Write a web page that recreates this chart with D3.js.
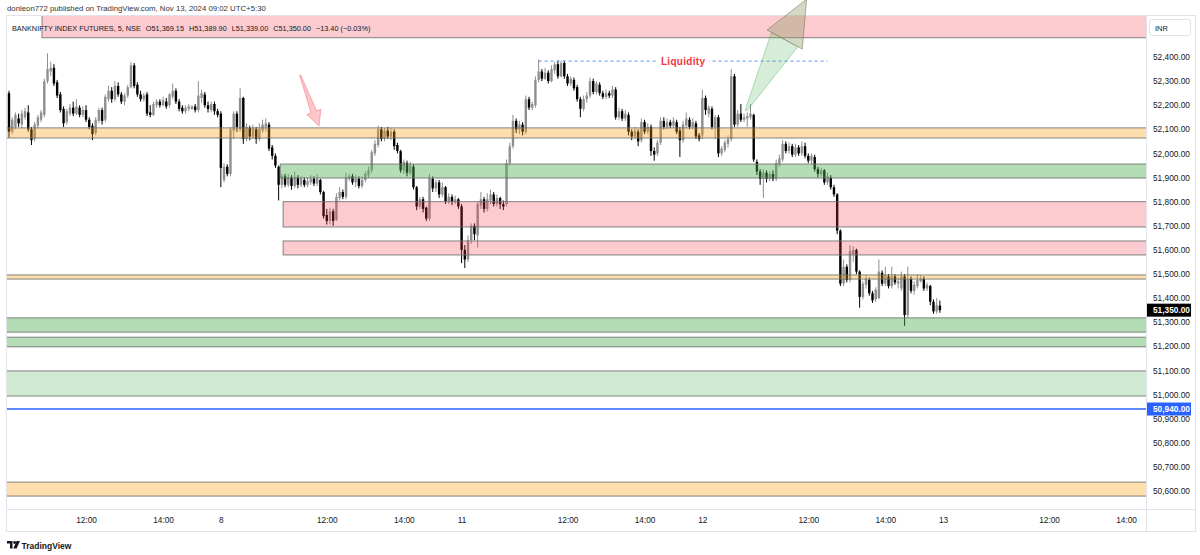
<!DOCTYPE html>
<html>
<head>
<meta charset="utf-8">
<script src="https://cdn.jsdelivr.net/npm/d3@7"></script>
<style>
  body { margin: 0; background: #fff; }
  text { font-family: "Liberation Sans", Arial, sans-serif; }
</style>
</head>
<body>
<svg id="chart" width="1200" height="555"></svg>
<script>
// 5 minute candles [open, high, low, close], one array per session
// Nov 7 is only visible from 09:55 (bar 8 of the session)
const nov07 = [
  [52265,52420,52260,52395],[52250,52260,52065,52090],[52090,52150,52080,52140],[52110,52170,52100,52160],
  [52145,52165,52110,52125],[52120,52180,52105,52165],[52150,52190,52140,52175],[52170,52200,52090,52100],
  [52100,52110,52035,52055],[52060,52130,52050,52120],[52115,52160,52105,52150],[52140,52180,52130,52170],
  [52160,52310,52150,52300],[52300,52415,52290,52350],[52340,52380,52320,52355],[52355,52370,52280,52290],
  [52295,52305,52230,52240],[52245,52255,52170,52180],[52185,52195,52110,52125],[52130,52185,52120,52175],
  [52165,52205,52155,52190],[52190,52215,52155,52165],[52165,52225,52160,52195],[52190,52200,52150,52160],
  [52160,52195,52150,52180],[52180,52200,52130,52140],[52140,52150,52100,52110],[52115,52125,52055,52080],
  [52085,52150,52075,52140],[52135,52190,52125,52180],[52180,52190,52120,52135],[52140,52245,52130,52235],
  [52225,52280,52215,52260],[52260,52275,52210,52225],[52225,52300,52215,52280],[52280,52295,52235,52245],
  [52245,52255,52205,52215],[52215,52250,52200,52240],[52240,52285,52230,52275],[52275,52380,52270,52365],
  [52365,52375,52270,52280],[52285,52295,52235,52245],[52245,52260,52215,52225],[52225,52250,52215,52240],
  [52245,52255,52155,52165],[52170,52200,52150,52160],[52160,52215,52155,52205],[52200,52225,52190,52215],
  [52215,52225,52190,52200],[52200,52235,52195,52220],[52215,52230,52185,52195],[52200,52250,52190,52245],
  [52235,52290,52225,52260],[52260,52270,52205,52215],[52215,52225,52175,52185],[52190,52200,52165,52175],
  [52175,52200,52165,52190],[52185,52205,52175,52195],[52185,52200,52180,52195],[52195,52205,52170,52180],
  [52180,52300,52170,52240],[52230,52265,52210,52250],[52245,52255,52190,52200],[52200,52215,52170,52185],
  [52180,52215,52170,52205],[52205,52215,52160,52175],[52175,52185,52150,52160]
];
const nov08 = [
  [52165,52175,51860,51940],[51890,51960,51880,51945],[51945,51955,51905,51915],[51915,52110,51905,52100],
  [52095,52175,52060,52165],[52165,52175,52090,52110],[52100,52270,52090,52230],[52230,52235,52040,52060],
  [52060,52125,52050,52110],[52105,52115,52055,52070],[52070,52120,52060,52105],[52100,52110,52040,52060],
  [52060,52125,52050,52100],[52095,52140,52085,52120],[52110,52145,52090,52125],[52120,52130,52010,52020],
  [52025,52035,51975,51990],[51990,52000,51940,51950],[51945,51950,51805,51870],[51870,51915,51855,51905],
  [51905,51915,51860,51870],[51870,51915,51860,51900],[51900,51910,51850,51865],[51865,51925,51855,51900],
  [51900,51910,51855,51870],[51870,51905,51860,51895],[51890,51900,51860,51870],[51870,51900,51860,51885],
  [51880,51910,51870,51895],[51895,51905,51865,51875],[51875,51915,51865,51895],[51890,51895,51830,51840],
  [51840,51845,51730,51740],[51745,51770,51705,51720],[51720,51775,51705,51760],[51760,51770,51700,51720],
  [51725,51835,51720,51820],[51815,51860,51805,51840],[51840,51850,51810,51820],[51820,51920,51810,51900],
  [51895,51915,51885,51905],[51905,51915,51870,51880],[51880,51910,51860,51895],[51895,51905,51855,51865],
  [51865,51905,51855,51890],[51890,51925,51880,51915],[51910,51945,51900,51930],[51930,52015,51920,52005],
  [52000,52055,51990,52040],[52035,52115,52025,52100],[52100,52110,52050,52060],[52060,52105,52050,52095],
  [52095,52110,52060,52070],[52070,52105,52055,52090],[52090,52100,52015,52030],[52035,52045,52000,52010],
  [52010,52015,51920,51930],[51930,51975,51915,51965],[51960,51970,51905,51920],[51920,51965,51910,51950],
  [51945,51955,51850,51860],[51860,51865,51765,51780],[51780,51820,51770,51810],[51810,51820,51755,51770],
  [51775,51780,51720,51730],[51730,51915,51720,51900],[51895,51905,51840,51855],[51855,51890,51840,51880],
  [51880,51890,51815,51830],[51830,51880,51820,51860],[51860,51865,51790,51800],[51800,51835,51790,51820],
  [51820,51830,51785,51800],[51800,51825,51790,51810],[51810,51815,51770,51780]
];
const nov11 = [
  [51780,51790,51545,51600],[51600,51620,51525,51560],[51560,51660,51550,51640],[51640,51710,51625,51700],
  [51700,51710,51640,51665],[51660,51800,51610,51790],[51785,51840,51770,51810],[51810,51820,51755,51770],
  [51770,51835,51760,51810],[51805,51850,51790,51830],[51830,51840,51780,51790],[51790,51830,51780,51815],
  [51815,51820,51770,51790],[51790,51805,51765,51780],[51790,51975,51780,51960],[51960,52045,51950,52030],
  [52030,52160,52020,52135],[52135,52145,52085,52100],[52100,52135,52080,52120],[52120,52130,52075,52090],
  [52090,52240,52080,52225],[52225,52235,52180,52190],[52190,52215,52180,52205],[52200,52320,52190,52305],
  [52305,52390,52295,52340],[52340,52350,52300,52310],[52310,52355,52305,52335],[52335,52345,52290,52300],
  [52300,52365,52295,52350],[52345,52380,52330,52370],[52370,52385,52310,52320],[52320,52385,52315,52375],
  [52375,52385,52310,52320],[52320,52330,52280,52290],[52290,52320,52280,52310],[52305,52315,52260,52270],
  [52275,52285,52215,52225],[52225,52235,52150,52185],[52185,52240,52175,52225],[52225,52255,52210,52240],
  [52240,52315,52230,52300],[52300,52310,52245,52255],[52255,52300,52245,52290],[52285,52295,52240,52250],
  [52250,52260,52225,52235],[52235,52265,52225,52250],[52250,52260,52230,52240],[52240,52280,52230,52265],
  [52265,52275,52140,52150],[52150,52190,52140,52175],[52175,52185,52135,52145],[52145,52180,52135,52165],
  [52160,52170,52075,52090],[52090,52100,52055,52070],[52070,52110,52060,52095],[52090,52100,52030,52050],
  [52055,52145,52045,52130],[52130,52140,52080,52090],[52090,52125,52080,52110],[52110,52120,51990,52010],
  [52010,52025,51970,51995],[52000,52055,51990,52045],[52045,52150,52035,52135],[52135,52150,52100,52110],
  [52110,52145,52100,52130],[52130,52140,52105,52115],[52115,52150,52105,52135],[52130,52140,52080,52090],
  [52095,52110,51985,52055],[52055,52135,52045,52120],[52115,52170,52105,52145],[52140,52150,52100,52110],
  [52110,52145,52100,52130],[52125,52135,52060,52070],[52075,52085,52050,52060]
];
const nov12 = [
  [52075,52265,52060,52230],[52230,52240,52160,52180],[52165,52200,52150,52190],[52185,52195,52100,52110],
  [52110,52160,52060,52150],[52150,52160,51985,52000],[52000,52030,51990,52020],[52015,52055,52005,52045],
  [52040,52075,52025,52060],[52060,52350,52050,52320],[52320,52330,52110,52120],[52120,52180,52110,52165],
  [52165,52205,52130,52140],[52140,52165,52130,52150],[52145,52170,52110,52155],[52150,52205,52140,52165],
  [52160,52165,51965,51975],[51965,51975,51910,51925],[51925,51935,51870,51895],[51895,51935,51815,51920],
  [51920,51930,51880,51895],[51895,51925,51885,51915],[51915,51930,51885,51895],[51895,51975,51885,51960],
  [51955,51995,51945,51980],[51975,52055,51965,52040],[52040,52050,52000,52010],[52010,52045,52000,52030],
  [52030,52040,51985,51995],[51995,52040,51985,52025],[52025,52035,51990,52000],[52000,52050,51990,52030],
  [52030,52045,51980,51990],[51990,52000,51960,51970],[51970,52000,51955,51990],[51985,51995,51925,51935],
  [51935,51945,51900,51915],[51915,51940,51905,51930],[51930,51935,51870,51880],[51880,51920,51870,51905],
  [51900,51910,51850,51860],[51860,51870,51820,51830],[51830,51835,51665,51680],[51680,51685,51450,51460],
  [51460,51560,51450,51530],[51530,51540,51465,51475],[51475,51620,51465,51595],[51580,51615,51550,51600],
  [51600,51605,51500,51510],[51510,51515,51360,51405],[51405,51470,51395,51460],[51455,51495,51440,51480],
  [51475,51485,51410,51420],[51420,51430,51380,51390],[51395,51445,51385,51435],[51400,51560,51395,51510],
  [51505,51515,51450,51460],[51460,51530,51450,51495],[51490,51500,51440,51450],[51450,51530,51440,51490],
  [51490,51500,51455,51465],[51460,51485,51440,51470],[51440,51510,51430,51490],[51490,51500,51285,51330],
  [51330,51530,51320,51480],[51480,51490,51420,51430],[51430,51470,51415,51455],[51450,51500,51440,51475],
  [51470,51495,51465,51480],[51480,51490,51430,51440],[51440,51465,51430,51455],[51450,51455,51370,51385],
  [51385,51395,51335,51345],[51345,51400,51335,51370],[51369.15,51389.9,51339,51350]
];
const sessions = [nov07, nov08, nov11, nov12];
const sessionFirstBar = [8, 75, 150, 225];   // global bar index of each array's first entry

// zones (price bands), left edge given as bar index (null = from the left edge)
const zoneLo   = [52480, 52064, 51898, 51695, 51579, 51479, 51259, 51198, 50994, 50579];
const zoneHi   = [52600, 52106, 51956, 51800, 51637, 51496, 51318, 51238, 51098, 50637];
const zoneFrom = [19.3, null, 93.5, 94.4, 94.4, null, null, null, null, null];
const zoneType = ['supply', 'flip', 'demand', 'supply', 'supply', 'flip', 'demand', 'demand', 'demandLight', 'flip'];

const priceTicks = [52400, 52300, 52200, 52100, 52000, 51900, 51800, 51700, 51600, 51500,
                    51400, 51300, 51200, 51100, 51000, 50900, 50800, 50700, 50600];
const timeTickBars = [33, 57, 75, 108, 132, 150, 183, 207, 225, 258, 282, 300, 333, 357];
const timeTickText = ['12:00', '14:00', '8', '12:00', '14:00', '11', '12:00', '14:00', '12',
                      '12:00', '14:00', '13', '12:00', '14:00'];

const lastPrice = 51350;
const alertPrice = 50940;
const liquidityPrice = 52383;
const liquidityBars = [174, 264];
// drawn arrows: [bar, price] tail -> tip
const redArrow = [[99.7, 52325], [105.6, 52114]];
const greenArrow = [[238.6, 52178], [257.5, 52640]];

const headerText = 'donleon772 published on TradingView.com, Nov 13, 2024 09:02 UTC+5:30';
const legendParts = ['BANKNIFTY INDEX FUTURES, 5, NSE', 'O51,369.15', 'H51,389.90', 'L51,339.00', 'C51,350.00', '\u221213.40 (\u22120.03%)'];

// ---------------------------------------------------------------
const pane = { l: 7, r: 1146, t: 16, b: 509 };
const svg = d3.select('#chart');

const x = d3.scaleLinear().domain([0, 300]).range([-19.9, 943.1]);
const y = d3.scaleLinear().domain([50600, 52400]).range([491, 57]);

const bars = [];
sessions.forEach((s, k) => s.forEach((d, j) => bars.push({
  i: sessionFirstBar[k] + j, o: d[0], h: d[1], l: d[2], c: d[3]
})));

svg.append('rect').attr('width', 1200).attr('height', 555).attr('fill', '#fff');

svg.append('defs').append('clipPath').attr('id', 'paneClip')
  .append('rect').attr('x', pane.l).attr('y', pane.t)
  .attr('width', pane.r - pane.l).attr('height', pane.b - pane.t);

// frame
svg.append('rect')
  .attr('x', pane.l - 0.5).attr('y', pane.t - 0.5)
  .attr('width', 1196 - pane.l).attr('height', 532 - pane.t)
  .attr('fill', 'none').attr('stroke', '#e0e3eb');
svg.append('line').attr('x1', pane.r + 0.5).attr('x2', pane.r + 0.5)
  .attr('y1', pane.t).attr('y2', 532).attr('stroke', '#e0e3eb');
svg.append('line').attr('x1', pane.l).attr('x2', 1196)
  .attr('y1', pane.b + 0.5).attr('y2', pane.b + 0.5).attr('stroke', '#e0e3eb');

const plot = svg.append('g').attr('clip-path', 'url(#paneClip)');

// candles
const upCol = '#8f8f8f', dnCol = '#000';
const cg = plot.append('g');
cg.selectAll('line.wick').data(bars).enter().append('line')
  .attr('x1', d => x(d.i)).attr('x2', d => x(d.i))
  .attr('y1', d => y(d.h)).attr('y2', d => y(d.l))
  .attr('stroke', d => d.c >= d.o ? upCol : dnCol).attr('stroke-width', 1);
cg.selectAll('rect.body').data(bars).enter().append('rect')
  .attr('x', d => x(d.i) - 1.2).attr('width', 2.4)
  .attr('y', d => y(Math.max(d.o, d.c)))
  .attr('height', d => Math.max(1, Math.abs(y(d.o) - y(d.c))))
  .attr('fill', d => d.c >= d.o ? upCol : dnCol);

// zones on top of the candles
const zoneFill = {
  supply: 'rgba(242, 54, 69, 0.26)',
  flip: 'rgba(255, 152, 0, 0.32)',
  demand: 'rgba(76, 175, 80, 0.42)',
  demandLight: 'rgba(76, 175, 80, 0.26)'
};
const zg = plot.append('g');
zoneLo.forEach((lo, k) => {
  const x0 = zoneFrom[k] == null ? pane.l - 2 : x(zoneFrom[k]);
  zg.append('rect')
    .attr('x', x0).attr('y', y(zoneHi[k]))
    .attr('width', pane.r + 2 - x0).attr('height', y(lo) - y(zoneHi[k]))
    .attr('fill', zoneFill[zoneType[k]])
    .attr('stroke', 'rgba(110, 110, 110, 0.85)').attr('stroke-width', 1);
});

// alert line
plot.append('line').attr('x1', pane.l).attr('x2', pane.r)
  .attr('y1', y(alertPrice)).attr('y2', y(alertPrice))
  .attr('stroke', '#2962ff').attr('stroke-width', 1.3);

// liquidity line + label
const lx0 = x(liquidityBars[0]), lx1 = x(liquidityBars[1]), ly = y(liquidityPrice);
plot.append('line').attr('x1', lx0).attr('x2', lx1).attr('y1', ly).attr('y2', ly)
  .attr('stroke', '#5b8ff0').attr('stroke-width', 1).attr('stroke-dasharray', '3,3');
const lmid = (lx0 + lx1) / 2;
plot.append('rect').attr('x', lmid - 26).attr('y', ly - 6).attr('width', 52).attr('height', 12).attr('fill', '#fff');
plot.append('text').attr('x', lmid).attr('y', ly + 3.5).attr('text-anchor', 'middle')
  .attr('font-size', 10).attr('font-weight', 'bold').attr('fill', '#f23645')
  .attr('letter-spacing', 0.3).text('Liquidity');

// arrows
function arrowPath(tail, tip, w0, w1, headW, headL) {
  const [x0, y0] = [x(tail[0]), y(tail[1])];
  const [x1, y1] = [x(tip[0]), y(tip[1])];
  const len = Math.hypot(x1 - x0, y1 - y0);
  const ux = (x1 - x0) / len, uy = (y1 - y0) / len;
  const px = -uy, py = ux;
  const bx = x1 - ux * headL, by = y1 - uy * headL;
  return [
    [x0 + px * w0 / 2, y0 + py * w0 / 2],
    [bx + px * w1 / 2, by + py * w1 / 2],
    [bx + px * headW / 2, by + py * headW / 2],
    [x1, y1],
    [bx - px * headW / 2, by - py * headW / 2],
    [bx - px * w1 / 2, by - py * w1 / 2],
    [x0 - px * w0 / 2, y0 - py * w0 / 2]
  ];
}
const ra = arrowPath(redArrow[0], redArrow[1], 1, 6, 15, 15);
svg.append('path').attr('d', d3.line()(ra) + 'Z')
  .attr('fill', 'rgba(242, 54, 69, 0.28)').attr('stroke', 'rgba(242, 54, 69, 0.35)');

const ga = arrowPath(greenArrow[0], greenArrow[1], 2, 30, 40, 46);
svg.append('path').attr('d', d3.line()([ga[0], ga[1], ga[5], ga[6]]) + 'Z')
  .attr('fill', 'rgba(76, 175, 80, 0.22)').attr('stroke', 'rgba(76, 175, 80, 0.4)');
svg.append('path').attr('d', d3.line()([ga[2], ga[3], ga[4]]) + 'Z')
  .attr('fill', 'rgba(150, 155, 110, 0.4)').attr('stroke', 'rgba(110, 120, 80, 0.55)');

// price axis
const yAxis = svg.append('g').attr('transform', `translate(${pane.r + 7},0)`)
  .call(d3.axisRight(y).tickValues(priceTicks).tickSize(0).tickPadding(0).tickFormat(d3.format(',.2f')));
yAxis.select('.domain').remove();
yAxis.selectAll('text').attr('font-size', 8.3).attr('fill', '#131722')
  .attr('font-family', '"Liberation Sans", Arial, sans-serif');

// price labels
function priceTag(p, col) {
  const g = svg.append('g').attr('transform', `translate(${pane.r + 1},${y(p)})`);
  g.append('rect').attr('x', 0).attr('y', -6.5).attr('width', 44).attr('height', 13).attr('fill', col);
  g.append('text').attr('x', 6).attr('y', 3).attr('font-size', 8.3).attr('font-weight', 'bold')
    .attr('fill', '#fff').text(d3.format(',.2f')(p));
}
priceTag(lastPrice, '#000');
priceTag(alertPrice, '#2962ff');

// currency box
svg.append('rect').attr('x', 1149.5).attr('y', 19.5).attr('width', 41).attr('height', 16).attr('rx', 2)
  .attr('fill', '#fff').attr('stroke', '#e0e3eb');
svg.append('text').attr('x', 1155).attr('y', 30.5).attr('font-size', 7.5).attr('fill', '#131722').text('INR');

// time axis
const xAxis = svg.append('g').attr('transform', `translate(0,${pane.b + 8})`)
  .call(d3.axisBottom(x).tickValues(timeTickBars).tickSize(0).tickPadding(0)
    .tickFormat((d, k) => timeTickText[k]));
xAxis.select('.domain').remove();
xAxis.selectAll('text').attr('font-size', 8.3).attr('fill', '#131722')
  .attr('font-family', '"Liberation Sans", Arial, sans-serif');

// header + legend
svg.append('text').attr('x', 7).attr('y', 11).attr('font-size', 7.8).attr('fill', '#333').text(headerText);
const leg = svg.append('text').attr('x', 12).attr('y', 30.5).attr('font-size', 7.3).attr('fill', '#131722');
legendParts.forEach((t, k) => leg.append('tspan').attr('dx', k ? 5 : 0).text(t));

// footer logo
const logo = svg.append('g').attr('transform', 'translate(7,541)').attr('fill', '#131722');
logo.append('path').attr('d', 'M0 0 H5.5 V7.5 H3 V2.4 H0 Z');
logo.append('circle').attr('cx', 7.6).attr('cy', 1.5).attr('r', 1.4);
logo.append('path').attr('d', 'M9.5 0 H13 L9.6 7.5 H6.3 Z');
svg.append('text').attr('x', 21.5).attr('y', 548.5).attr('font-size', 8.5).attr('font-weight', 'bold')
  .attr('fill', '#131722').text('TradingView');
</script>
</body>
</html>
